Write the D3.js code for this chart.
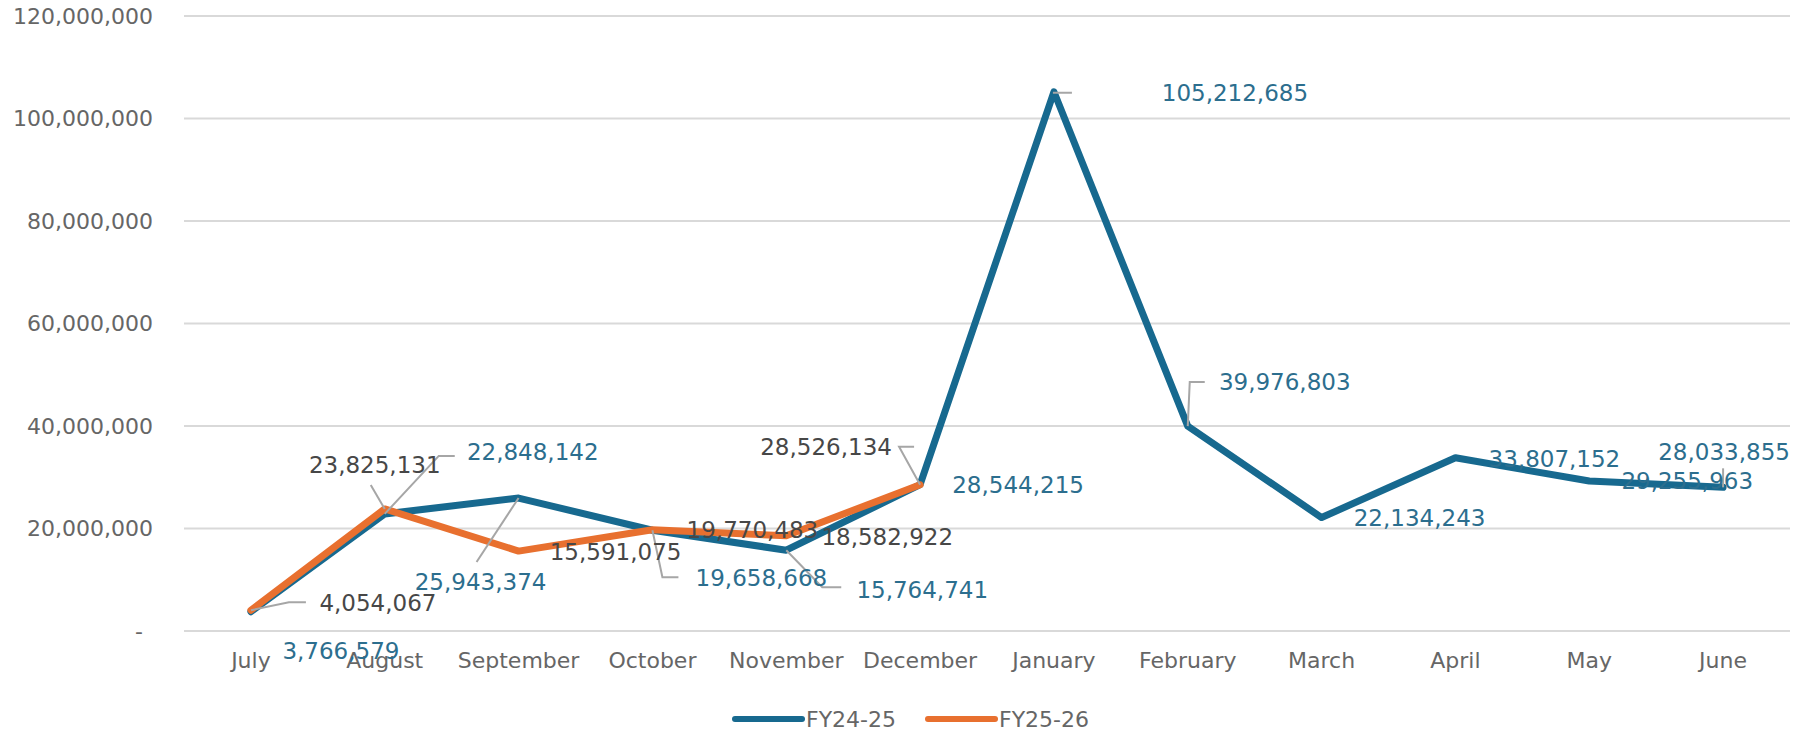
<!DOCTYPE html>
<html>
<head>
<meta charset="utf-8">
<script src="https://cdn.jsdelivr.net/npm/d3@7"></script>
<style>
  body { margin: 0; background: #fff; }
  text { font-family: "DejaVu Sans", sans-serif; }
</style>
</head>
<body>
<svg id="chart" width="1816" height="733"></svg>
<script>
var months = ["July", "August", "September", "October", "November", "December",
              "January", "February", "March", "April", "May", "June"];
var fy2425 = [3766579, 22848142, 25943374, 19658668, 15764741, 28544215,
              105212685, 39976803, 22134243, 33807152, 29255963, 28033855];
var fy2526 = [4054067, 23825131, 15591075, 19770483, 18582922, 28526134];
var yTicks = [0, 20000000, 40000000, 60000000, 80000000, 100000000, 120000000];
var seriesNames = ["FY24-25", "FY25-26"];

// label placement (offset of label centre from its point) and leader bends
var offsA = [[90, 39], [148, -62], [-38, 84], [109, 47], [136, 40], [98, 0],
             [181, 1], [97, -44], [98, 0], [99, 1], [98, 0], [1, -36]];
var leadA = [null, [[54, -58], [70, -58]], [[-42, 64]], [[10, 47], [26, 47]],
             [[36, 37], [55, 37]], null, [[0, 1], [18, 1]], [[2, -44], [17, -44]],
             null, null, null, [[0, -19]]];
var offsB = [[127, -8], [-10, -44], [97, 1], [100, 0], [101, 1], [-94, -38]];
var leadB = [[[38, -8], [55, -8]], [[-14, -24]], null, null, null, [[-21, -38], [-6, -38]]];

var blue = "#17698f", orange = "#e8702f";
var svg = d3.select("#chart");

var x = d3.scaleBand().domain(months).range([184, 1790]);
var y = d3.scaleLinear().domain([0, 120000000]).range([631, 16]);
var cx = function(i){ return x(months[i]) + x.bandwidth() / 2; };

// grid
svg.selectAll("line.grid")
    .data(yTicks)
    .enter()
    .append("line")
    .attr("x1", 184)
    .attr("x2", 1790)
    .attr("y1", function(d){ return y(d); })
    .attr("y2", function(d){ return y(d); })
    .attr("stroke", "#d9d9d9")
    .attr("stroke-width", 2);

svg.selectAll("text.ytick")
    .data(yTicks)
    .enter()
    .append("text")
    .attr("x", function(d){ return d == 0 ? 143 : 153; })
    .attr("y", function(d){ return y(d); })
    .attr("dy", "0.36em")
    .attr("text-anchor", "end")
    .attr("fill", "#666")
    .attr("font-size", 22)
    .text(function(d){ return d == 0 ? "-" : d3.format(",")(d); });

svg.selectAll("text.xtick")
    .data(months)
    .enter()
    .append("text")
    .attr("x", function(d){ return x(d) + x.bandwidth() / 2; })
    .attr("y", 668)
    .attr("text-anchor", "middle")
    .attr("fill", "#666")
    .attr("font-size", 22)
    .text(function(d){ return d; });

// lines
var line = d3.line()
    .x(function(d, i){ return cx(i); })
    .y(function(d){ return y(d); });

[[fy2425, blue], [fy2526, orange]].forEach(function(s){
    svg.append("path")
        .datum(s[0])
        .attr("d", line)
        .attr("fill", "none")
        .attr("stroke", s[1])
        .attr("stroke-width", 7)
        .attr("stroke-linejoin", "round")
        .attr("stroke-linecap", "round");
});

// leaders + labels
function drawLabels(vals, offs, leads, color){
    vals.forEach(function(v, i){
        var px = cx(i), py = y(v);
        if (leads[i]) {
            var pts = [[px, py]].concat(leads[i].map(function(p){ return [px + p[0], py + p[1]]; }));
            svg.append("path")
                .attr("d", d3.line()(pts))
                .attr("fill", "none")
                .attr("stroke", "#a6a6a6")
                .attr("stroke-width", 2);
        }
    });
    vals.forEach(function(v, i){
        svg.append("text")
            .attr("x", cx(i) + offs[i][0])
            .attr("y", y(v) + offs[i][1])
            .attr("dy", "0.36em")
            .attr("text-anchor", "middle")
            .attr("fill", color)
            .attr("font-size", 23)
            .text(d3.format(",")(v));
    });
}
drawLabels(fy2425, offsA, leadA, "#2c6e8e");
drawLabels(fy2526, offsB, leadB, "#474747");

// legend
var legend = svg.selectAll("g.legend")
    .data(seriesNames)
    .enter()
    .append("g")
    .attr("transform", function(d, i){ return "translate(" + (735 + i * 193) + ",719)"; });

legend.append("line")
    .attr("x1", 0)
    .attr("x2", 67)
    .attr("stroke", function(d, i){ return i == 0 ? blue : orange; })
    .attr("stroke-width", 6)
    .attr("stroke-linecap", "round");

legend.append("text")
    .attr("x", 71)
    .attr("dy", "0.36em")
    .attr("fill", "#666")
    .attr("font-size", 22)
    .text(function(d){ return d; });
</script>
</body>
</html>
